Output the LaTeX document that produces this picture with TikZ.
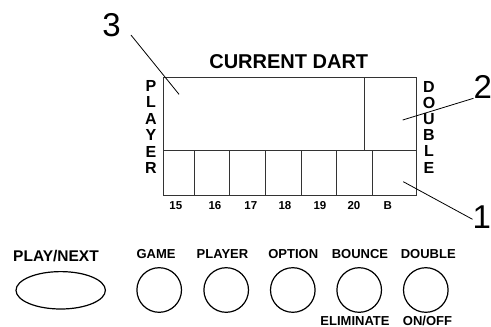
\documentclass[tikz,border=0pt]{standalone}
\usepackage{fontspec}
\setmainfont{Liberation Sans}
\usetikzlibrary{shapes.geometric}
\newcommand{\framecolor}{black!80}
\newcommand{\bigfont}{\fontsize{33}{36}\selectfont}

\begin{document}
\begin{tikzpicture}[
      % GLOBAL CFG
      x=1pt, y=-1pt,
      font=\bfseries,
      % Styles
      field/.style={% For display fields
        rectangle,
        draw=\framecolor,
        line width=0.9pt,
        inner sep=0pt,
        anchor=north west
      },
      button/.style={% For round buttons
        circle,
        draw,
        line width=1.2pt,
        minimum size=44.6pt,
        inner sep=0pt
      },
      caption/.style={% For button labels
        inner sep=0pt,
        font=\bfseries\fontsize{13}{15}\selectfont
      },
      digit/.style={% For score labels
        inner sep=0pt,
        font=\bfseries\fontsize{11.5}{13}\selectfont
      },
      callout/.style={% For numbered callouts
        inner sep=0pt,
        font=\mdseries\bigfont
      },
      leader/.style={% Lines for callouts
        line width=0.8pt
      }
      ]
      \useasboundingbox (0,0) rectangle (491,327);

      % Draw the display:
      \node [inner sep=0pt, font=\bfseries\fontsize{20}{24}\selectfont] (title) at (288.8,62) {CURRENT DART};
      \node [field, minimum width=201pt, minimum height=73.3pt] (main) at (163.3,76.7) {};
      \node [field, minimum width=51.7pt, minimum height=73.3pt] (dbl) at (364.3,76.7) {};
      \foreach \x/\w [count=\i] in {163.3/30.7, 194/35.3, 229.3/35.7, 265/35.7, 300.7/35.3, 336/35.7, 371.7/44.3}
        \node [field, minimum width=\w pt, minimum height=45pt] (cell\i) at (\x,150) {};
      \foreach \x/\txt [count=\i] in {175.8/15, 215/16, 250.8/17, 285/18, 320/19, 354/20, 387.8/B}
        \node [digit] (score\i) at (\x,206) {\txt};

      \node [inner sep=0pt, align=center, font=\bfseries\fontsize{16}{16.5}\selectfont] (player) at (151,127) {P\\L\\A\\Y\\E\\R};
      \node [inner sep=0pt, align=center, font=\bfseries\fontsize{16}{16.2}\selectfont] (double) at (429,127) {D\\O\\U\\B\\L\\E};

      % Callouts
      \node [callout, anchor=south west] (num3) at (102.2,36.7) {3};
      \node [callout, anchor=south west] (num2) at (473.5,98.3) {2};
      \node [callout, anchor=west] (num1) at (472.5,216.7) {1};
      \coordinate (end3) at (179,94.3);
      \coordinate (end2) at (402.7,120);
      \coordinate (end1) at (403.3,181.7);
      \draw [leader] ([xshift=10pt,yshift=1.7pt]num3.south east) -- (end3);
      \draw [leader] (num2.south west) -- (end2);
      \draw [leader] ([yshift=-2.6pt]num1.west) -- (end1);

      % Buttons
      \node [ellipse, draw, line width=1.2pt, minimum width=89.4pt, minimum height=37.4pt, inner sep=0pt] (play) at (60.7,290.3) {};
      \node [caption, font=\bfseries\fontsize{15.5}{18}\selectfont] (playlbl) at (56,255.7) {PLAY/NEXT};
      \node [button] (game) at (159.2,290) {};
      \node [caption] (gamelbl) at (156,254) {GAME};
      \node [button] (plyr) at (226.2,290) {};
      \node [caption] (plyrlbl) at (222.5,254) {PLAYER};
      \node [button] (option) at (292.8,290) {};
      \node [caption] (optionlbl) at (293.3,254) {OPTION};
      \node [button] (bounce) at (359.2,290) {};
      \node [caption] (bouncelbl) at (360,254) {BOUNCE};
      \node [caption] (elimlbl) at (355,320.6) {ELIMINATE};
      \node [button] (dblbtn) at (425.8,290) {};
      \node [caption] (dblbtnlbl) at (428.3,254) {DOUBLE};
      \node [caption] (onofflbl) at (427.5,320.6) {ON/OFF};

    \end{tikzpicture}
\end{document}
